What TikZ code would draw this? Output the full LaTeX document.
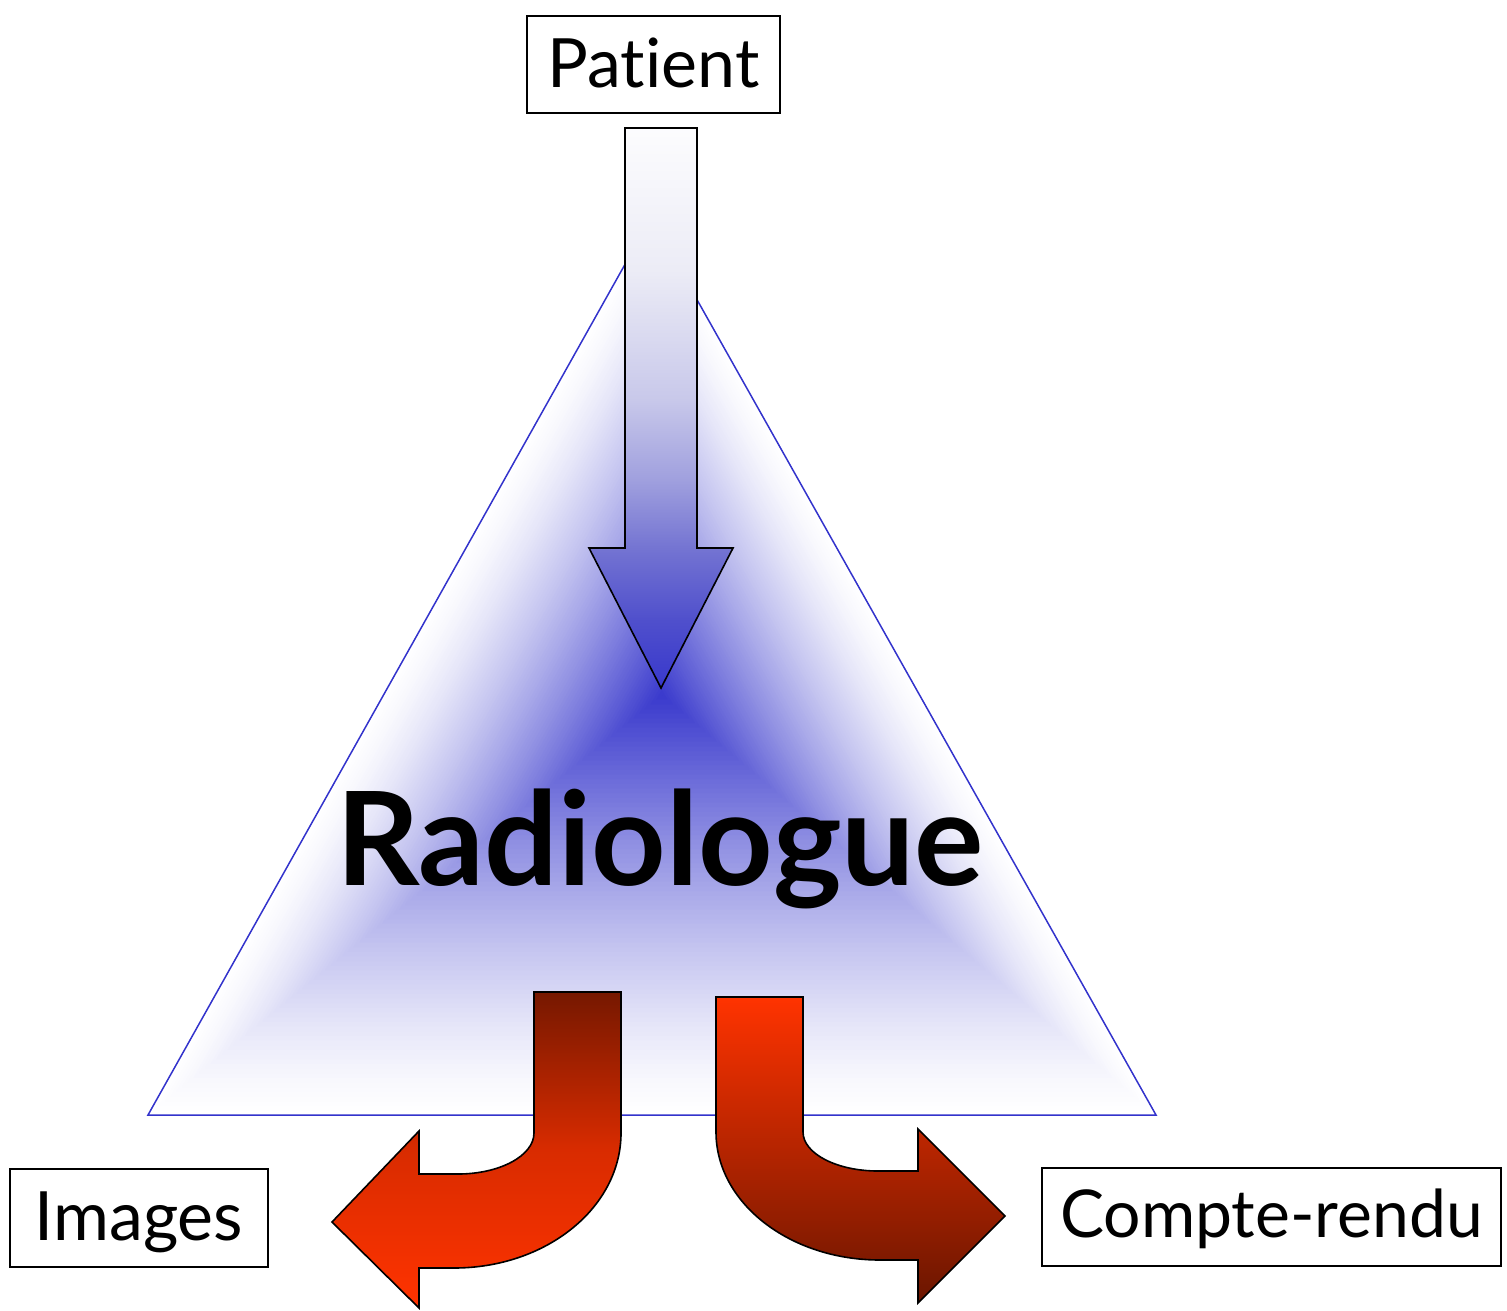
\documentclass[tikz,border=0pt]{standalone}
\usepackage{fontspec}
\setmainfont{Lato}[RawFeature=-liga]
\usetikzlibrary{calc}
\definecolor{cblue}{RGB}{56,56,204}
\definecolor{tline}{RGB}{51,51,204}
\definecolor{rdark}{RGB}{118,24,0}
\definecolor{rbright}{RGB}{255,51,0}
\pgfdeclareverticalshading{pblue}{100bp}{%
  rgb(0bp)=(0.22,0.22,0.8);
  rgb(25bp)=(0.22,0.22,0.8);
  rgb(31bp)=(0.31,0.31,0.8);
  rgb(37.5bp)=(0.455,0.455,0.824);
  rgb(43.6bp)=(0.627,0.627,0.871);
  rgb(50.7bp)=(0.784,0.784,0.918);
  rgb(62.3bp)=(0.925,0.925,0.965);
  rgb(75bp)=(0.99,0.99,0.995);
  rgb(100bp)=(0.99,0.99,0.995)}
\tikzset{
  labelbox/.style={draw=black, line width=1pt, fill=white, inner sep=0pt,
    font=\fontsize{34pt}{40pt}\selectfont},
  redarrow/.style={draw=black, line width=0.8pt},
  trioutline/.style={draw=tline, line width=0.75pt},
}
\begin{document}
\begin{tikzpicture}[x=0.5pt,y=-0.5pt]
\useasboundingbox (0,0) rectangle (1507,1310);
% triangle vertices and gradient centre
\coordinate (A) at (651,218);
\coordinate (B) at (148,1115);
\coordinate (D) at (1156,1115);
\coordinate (C) at (662,695);
\fill[white] (A) -- (B) -- (D) -- cycle;
\foreach \i in {1,...,90}{
  \pgfmathsetmacro\s{1-\i/90}
  \pgfmathsetmacro\f{100*(\i/90)^1.3}
  \fill[cblue!\f!white] ($(C)!\s!(A)$) -- ($(C)!\s!(B)$) -- ($(C)!\s!(D)$) -- cycle;
}
\path[trioutline] (A) -- (B) -- (D) -- cycle;
% down arrow
\shadedraw[shading=pblue, draw=black, line width=0.8pt]
  (625,128) -- (697,128) -- (697,548) -- (733,548) -- (661,688)
  -- (589,548) -- (625,548) -- cycle;
% left red arrow
\shadedraw[redarrow, top color=rdark, bottom color=rbright, middle color=rbright!72!rdark]
  (534,992) -- (621,992) -- (621,1133)
  .. controls (621,1207.6) and (546.2,1268) .. (454,1268)
  -- (419,1268) -- (419,1308) -- (332,1222) -- (419,1131) -- (419,1174)
  -- (458,1174) .. controls (500,1174) and (534,1155.6) .. (534,1133)
  -- cycle;
% right red arrow
\shadedraw[redarrow, top color=rbright, bottom color=rdark!90!black]
  (716,997) -- (803,997) -- (803,1132)
  .. controls (803,1153.5) and (836.6,1171) .. (878,1171)
  -- (918,1171) -- (918,1129) -- (1005,1216) -- (918,1303) -- (918,1260)
  -- (880,1260) .. controls (789.4,1260) and (716,1202.7) .. (716,1132)
  -- cycle;
% central label
\node[anchor=base, inner sep=0pt, font=\fontsize{65pt}{70pt}\selectfont\bfseries]
  (rad) at (660,885) {Radiologue};
% boxes
\node[labelbox, minimum width=126.5pt, minimum height=48.5pt,
  text height=25pt, text depth=1.5pt] (pat) at (653.5,64.5) {Patient};
\node[labelbox, minimum width=129pt, minimum height=49pt,
  text height=24pt, text depth=2pt] (img) at (139,1218) {Images};
\node[labelbox, minimum width=229.5pt, minimum height=49pt,
  text height=22pt, text depth=2pt, font=\fontsize{33pt}{40pt}\selectfont]
  (cr) at (1271.5,1217) {Compte-rendu};
\end{tikzpicture}
\end{document}
